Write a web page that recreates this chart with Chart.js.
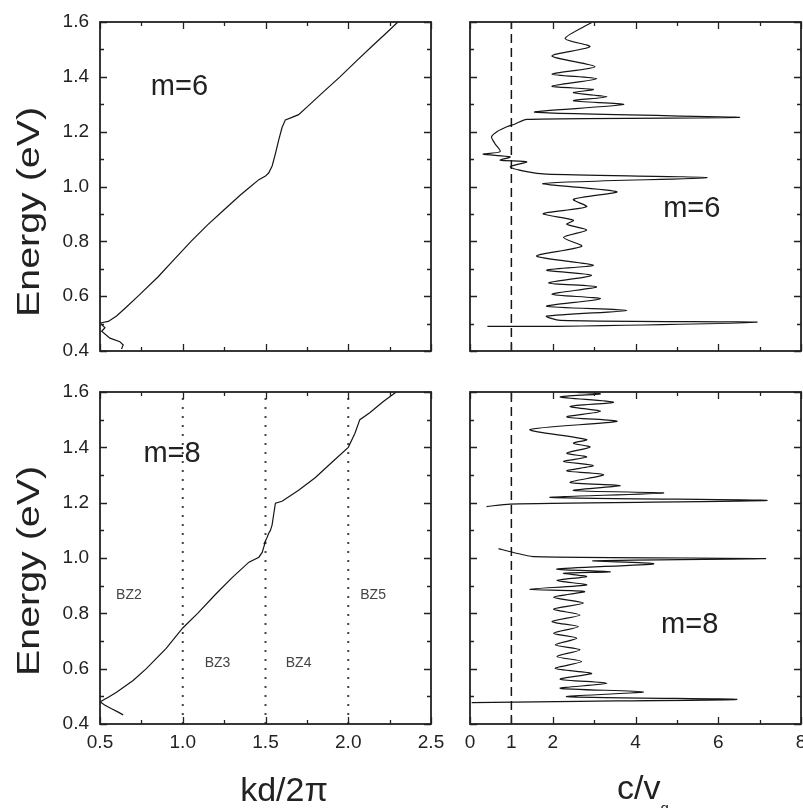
<!DOCTYPE html>
<html>
<head>
<meta charset="utf-8">
<script src="https://cdn.jsdelivr.net/npm/chart.js@4.4.1/dist/chart.umd.min.js"></script>
<style>
  html, body { margin: 0; padding: 0; background: #fff; }
  #fig { position: relative; width: 803px; height: 808px; overflow: hidden; font-family: "Liberation Sans", Arial, sans-serif; color: #222; }
  #fig canvas { position: absolute; }
  .t { position: absolute; white-space: nowrap; line-height: 1; }
  .ylab { font-size: 32px; transform: translate(-50%, -50%) rotate(-90deg) scaleX(1.23); }
  .xlab { font-size: 34px; transform: translate(-50%, 0); }
  .xlab sub { font-size: 15px; vertical-align: -14px; }
</style>
</head>
<body>
<div id="fig">
  <canvas id="tl" width="452" height="380" style="left:0;top:0"></canvas>
  <canvas id="tr" width="351" height="380" style="left:452px;top:0"></canvas>
  <canvas id="bl" width="452" height="428" style="left:0;top:380px"></canvas>
  <canvas id="br" width="351" height="428" style="left:452px;top:380px"></canvas>
  <div class="t ylab" style="left:28px;top:212px">Energy (eV)</div>
  <div class="t ylab" style="left:28px;top:571px">Energy (eV)</div>
  <div class="t xlab" style="left:284px;top:772px">kd/2π</div>
  <div class="t xlab" style="left:643px;top:770px">c/v<sub>g</sub></div>
</div>
<script>
// tick values
const energyTicks = [0.4, 0.5, 0.6, 0.7, 0.8, 0.9, 1.0, 1.1, 1.2, 1.3, 1.4, 1.5, 1.6]
const kdTicks = [0.5, 0.75, 1.0, 1.25, 1.5, 1.75, 2.0, 2.25, 2.5]
const cvgTicks = [0, 1, 2, 3, 4, 5, 6, 7, 8]
const cvgLabels = [0, 1, 2, 4, 6, 8]
const zoneEdges = [1.0, 1.5, 2.0]

// m=6 dispersion (kd/2pi, energy)
const kd6 = [0.5, 0.55, 0.6, 0.65, 0.73, 0.85, 0.95, 1.05, 1.15, 1.25, 1.35, 1.41, 1.46, 1.5, 1.52, 1.54, 1.56, 1.58, 1.6, 1.62, 1.66, 1.7, 1.76, 1.85, 1.95, 2.05, 2.15, 2.23, 2.3]
const e6 = [0.502, 0.508, 0.528, 0.555, 0.6, 0.67, 0.735, 0.8, 0.86, 0.915, 0.97, 1.0, 1.025, 1.038, 1.05, 1.075, 1.12, 1.17, 1.215, 1.243, 1.252, 1.262, 1.295, 1.345, 1.4, 1.458, 1.515, 1.56, 1.6]
const kd6Tail = [0.5, 0.53, 0.51, 0.56, 0.62, 0.64, 0.63]
const e6Tail = [0.502, 0.485, 0.472, 0.447, 0.434, 0.422, 0.407]

// m=8 dispersion
const kd8 = [0.5, 0.52, 0.55, 0.6, 0.7, 0.78, 0.9, 1.0, 1.09, 1.2, 1.3, 1.4, 1.46, 1.48, 1.49, 1.5, 1.49, 1.51, 1.52, 1.53, 1.54, 1.55, 1.56, 1.6, 1.7, 1.8, 1.9, 2.0, 2.04, 2.07, 2.13, 2.21, 2.29]
const e8 = [0.48, 0.487, 0.497, 0.515, 0.557, 0.6, 0.673, 0.747, 0.8, 0.87, 0.93, 0.985, 1.003, 1.02, 1.04, 1.06, 1.05, 1.075, 1.09, 1.1, 1.12, 1.16, 1.198, 1.205, 1.245, 1.29, 1.345, 1.4, 1.45, 1.5, 1.525, 1.565, 1.6]
const kd8Tail = [0.5, 0.53, 0.57, 0.61, 0.64]
const e8Tail = [0.48, 0.468, 0.455, 0.443, 0.433]

// m=6 group index (c/vg, energy)
const cvg6 = [0.42, 2.1, 6.94, 2.18, 1.85, 3.79, 1.85, 3.15, 1.98, 3.06, 1.9, 2.94, 1.85, 2.98, 1.61, 2.7, 2.26, 2.82, 2.34, 2.5, 1.77, 2.82, 2.5, 3.55, 1.77, 5.73, 1.85, 1.37, 0.97, 1.37, 0.73, 0.97, 0.32, 0.73, 0.6, 0.52, 0.65, 0.89, 1.09, 1.37, 6.52, 1.57, 3.71, 2.5, 3.31, 2.5, 2.98, 1.98, 3.06, 1.98, 3.02, 1.98, 2.9, 2.3, 2.94]
const ev6 = [0.49, 0.49, 0.505, 0.512, 0.527, 0.548, 0.563, 0.591, 0.607, 0.634, 0.648, 0.676, 0.695, 0.713, 0.746, 0.782, 0.814, 0.841, 0.862, 0.877, 0.901, 0.926, 0.953, 0.981, 1.011, 1.032, 1.045, 1.054, 1.072, 1.09, 1.096, 1.108, 1.118, 1.127, 1.157, 1.181, 1.2, 1.218, 1.228, 1.245, 1.252, 1.271, 1.299, 1.313, 1.327, 1.342, 1.354, 1.366, 1.393, 1.41, 1.437, 1.476, 1.51, 1.54, 1.598]

// m=8 group index (null = gap in the curve)
const cvg8 = [0.04, 2.1, 6.45, 2.34, 4.19, 2.18, 3.31, 2.18, 2.94, 2.06, 2.7, 2.1, 2.66, 2.06, 2.58, 2.02, 2.62, 1.98, 2.66, 2.02, 2.74, 2.02, 2.77, 1.45, 2.82, 2.1, 2.82, 2.26, 3.39, 2.1, 4.44, 2.98, 7.14, 1.53, 1.05, 0.69, null, 0.4, 0.97, 7.18, 1.94, 4.68, 2.5, 3.63, 2.42, 3.23, 2.34, 2.98, 2.26, 2.82, 2.34, 2.9, 2.5, 2.82, 1.45, 3.55, 2.34, 3.15, 2.42, 3.47, 2.18, 3.15, 2.58]
const ev8 = [0.477, 0.481, 0.489, 0.499, 0.516, 0.529, 0.547, 0.562, 0.583, 0.601, 0.626, 0.644, 0.668, 0.686, 0.71, 0.728, 0.752, 0.77, 0.794, 0.815, 0.837, 0.858, 0.879, 0.887, 0.903, 0.919, 0.933, 0.945, 0.95, 0.96, 0.979, 0.99, 0.998, 1.005, 1.02, 1.034, null, 1.186, 1.195, 1.208, 1.219, 1.235, 1.244, 1.262, 1.273, 1.301, 1.315, 1.334, 1.349, 1.365, 1.379, 1.401, 1.415, 1.428, 1.464, 1.494, 1.51, 1.53, 1.548, 1.563, 1.582, 1.593, 1.599]

const FONT = '"Liberation Sans", Arial, sans-serif'
const INK = '#222'

const pts = (xs, ys) => xs.map((x, i) => ({ x, y: ys[i] }))
const line = (xs, ys, extra = {}) => ({
  data: pts(xs, ys), showLine: true, pointRadius: 0, borderColor: "#151515", borderWidth: 1.2, tension: 0, ...extra,
})

const eLabel = (v) => (Math.round(v * 10) % 2 === 0 ? v.toFixed(1) : "")
const kdLabel = (v) => (Math.round(v * 4) % 2 === 0 ? v.toFixed(1) : "")
const cvgLabel = (v) => (cvgLabels.includes(v) ? String(v) : "")

// box round the plot area with inward ticks, long where a tick carries a label
const frame = (xLab, yLab) => ({
  id: "frame",
  afterDraw(chart) {
    const { ctx, chartArea: a, scales: { x, y } } = chart
    ctx.save()
    ctx.strokeStyle = INK
    ctx.lineWidth = 1.3
    ctx.beginPath()
    for (const v of x.ticks.map((t) => t.value)) {
      const p = Math.round(x.getPixelForValue(v)) + 0.5
      const len = xLab(v) ? 7 : 4
      ctx.moveTo(p, a.bottom); ctx.lineTo(p, a.bottom - len)
      ctx.moveTo(p, a.top); ctx.lineTo(p, a.top + len)
    }
    for (const v of y.ticks.map((t) => t.value)) {
      const p = Math.round(y.getPixelForValue(v)) + 0.5
      const len = yLab(v) ? 7 : 4
      ctx.moveTo(a.left, p); ctx.lineTo(a.left + len, p)
      ctx.moveTo(a.right, p); ctx.lineTo(a.right - len, p)
    }
    ctx.stroke()
    ctx.lineWidth = 1.8
    ctx.strokeRect(a.left, a.top, a.right - a.left, a.bottom - a.top)
    ctx.restore()
  },
})

// text placed at data coordinates
const notes = (items) => ({
  id: "notes",
  afterDraw(chart) {
    const { ctx, scales: { x, y } } = chart
    ctx.save()
    ctx.textAlign = "center"
    ctx.textBaseline = "middle"
    for (const n of items) {
      ctx.fillStyle = n.color || INK
      ctx.font = `${n.size}px ${FONT}`
      ctx.fillText(n.text, x.getPixelForValue(n.x), y.getPixelForValue(n.y))
    }
    ctx.restore()
  },
})

function panel(id, { datasets, xMin, xMax, xTicks, xLab, showX, showY, pad, texts }) {
  const fixTicks = (list) => (s) => { s.ticks = list.map((value) => ({ value })) }
  return new Chart(document.getElementById(id), {
    type: "scatter",
    data: { datasets },
    options: {
      responsive: false,
      animation: false,
      devicePixelRatio: 1,
      layout: { padding: pad },
      plugins: { legend: { display: false }, tooltip: { enabled: false } },
      scales: {
        x: {
          type: "linear", min: xMin, max: xMax,
          afterBuildTicks: fixTicks(xTicks),
          grid: { display: false, drawTicks: false }, border: { display: false },
          ticks: { display: showX, autoSkip: false, maxRotation: 0, padding: 7, color: INK, font: { family: FONT, size: 19 }, callback: xLab },
          afterFit: (s) => { s.height = showX ? 40 : 0; s.paddingLeft = s.paddingRight = 0 },
        },
        y: {
          type: "linear", min: 0.4, max: 1.6,
          afterBuildTicks: fixTicks(energyTicks),
          grid: { display: false, drawTicks: false }, border: { display: false },
          ticks: { display: showY, autoSkip: false, padding: 11, color: INK, font: { family: FONT, size: 19 }, callback: eLabel },
          afterFit: (s) => { s.width = showY ? 100 : 18; s.paddingTop = s.paddingBottom = 0 },
        },
      },
    },
    plugins: [frame(xLab, eLabel), notes(texts)],
  })
}

const dashed = line([1, 1], [0.4, 1.6], { borderDash: [9, 5], borderWidth: 1.5 })
const dotted = zoneEdges.map((k) => line([k, k], [0.4, 1.6], { borderDash: [2, 7], borderWidth: 2, borderColor: "#444" }))

panel("tl", {
  datasets: [line(kd6, e6), line(kd6Tail, e6Tail)],
  xMin: 0.5, xMax: 2.5, xTicks: kdTicks, xLab: kdLabel, showX: false, showY: true,
  pad: { left: 0, right: 21, top: 22, bottom: 29 },
  texts: [{ text: "m=6", x: 0.98, y: 1.363, size: 29 }],
})
panel("tr", {
  datasets: [line(cvg6, ev6, { tension: 0.25 }), dashed],
  xMin: 0, xMax: 8, xTicks: cvgTicks, xLab: cvgLabel, showX: false, showY: false,
  pad: { left: 0, right: 2, top: 22, bottom: 29 },
  texts: [{ text: "m=6", x: 5.36, y: 0.918, size: 29 }],
})
panel("bl", {
  datasets: [line(kd8, e8), line(kd8Tail, e8Tail), ...dotted],
  xMin: 0.5, xMax: 2.5, xTicks: kdTicks, xLab: kdLabel, showX: true, showY: true,
  pad: { left: 0, right: 21, top: 12, bottom: 44 },
  texts: [
    { text: "m=8", x: 0.935, y: 1.376, size: 29 },
    { text: "BZ2", x: 0.675, y: 0.866, size: 14, color: "#444" },
    { text: "BZ3", x: 1.21, y: 0.62, size: 14, color: "#444" },
    { text: "BZ4", x: 1.7, y: 0.62, size: 14, color: "#444" },
    { text: "BZ5", x: 2.15, y: 0.866, size: 14, color: "#444" },
  ],
})
panel("br", {
  datasets: [line(cvg8, ev8, { tension: 0.25 }), dashed],
  xMin: 0, xMax: 8, xTicks: cvgTicks, xLab: cvgLabel, showX: true, showY: false,
  pad: { left: 0, right: 2, top: 12, bottom: 44 },
  texts: [{ text: "m=8", x: 5.31, y: 0.758, size: 29 }],
})
</script>
</body>
</html>
